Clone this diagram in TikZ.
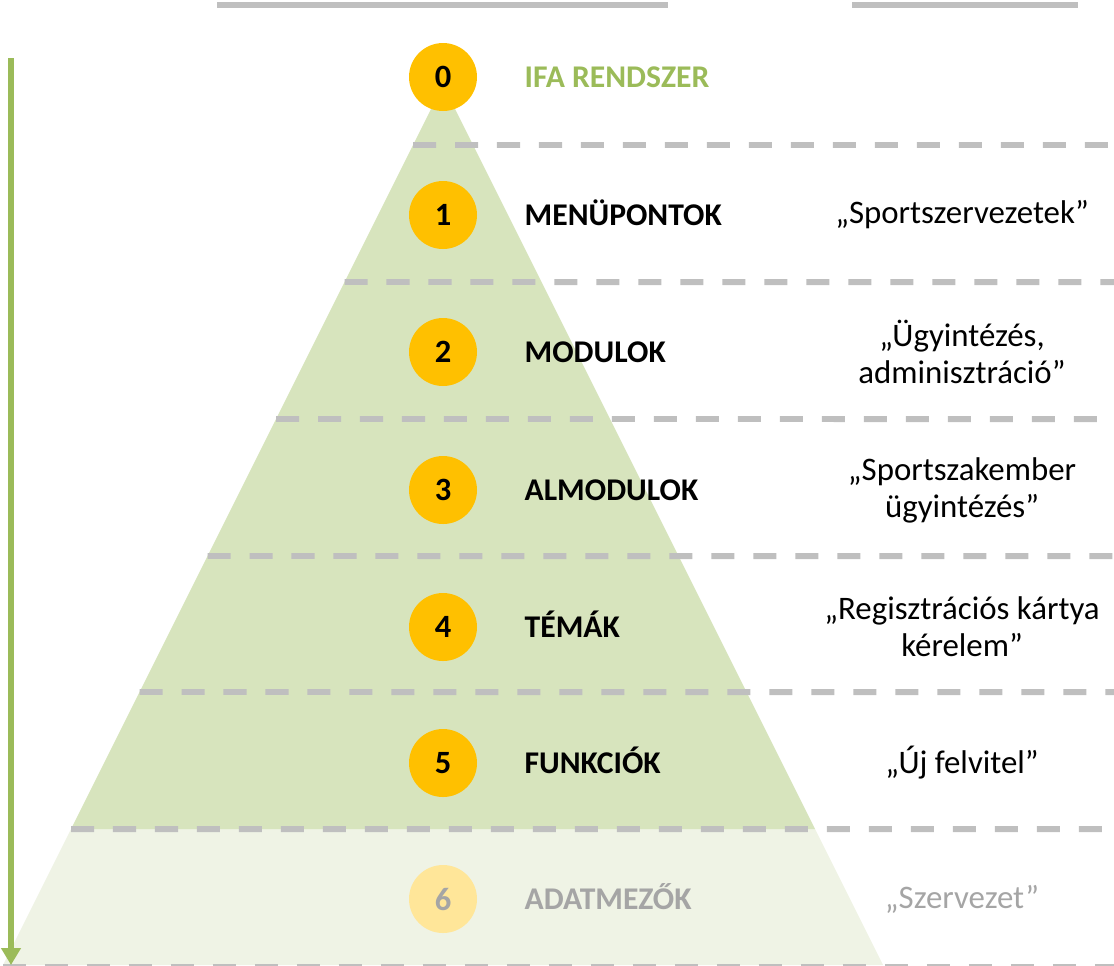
\documentclass[tikz,border=0pt]{standalone}
\usepackage{fontspec}
\setmainfont{Carlito}
\usetikzlibrary{positioning,arrows.meta,calc}
\definecolor{ifagreen}{HTML}{9BBB59}
\definecolor{pyrgreen}{HTML}{D7E4BD}
\definecolor{pyrlight}{HTML}{EFF3E5}
\definecolor{gold}{HTML}{FFC000}
\definecolor{goldlight}{HTML}{FFE699}
\definecolor{sepgray}{HTML}{BFBFBF}
\definecolor{fadegray}{HTML}{A5A5A5}
\tikzset{
  lvl/.style={circle, fill=gold, minimum size=1.36cm, inner sep=0pt,
    font=\fontsize{18.5}{21}\selectfont\bfseries},
  lvlname/.style={inner sep=0pt, text height=11.6pt, text depth=0pt,
    font=\fontsize{18}{21}\selectfont\bfseries},
  lvldesc/.style={inner sep=0pt, align=center, font=\fontsize{18.7}{21}\selectfont},
  sep/.style={sepgray, line width=3.4pt, dash pattern=on 13.1pt off 10.8pt},
  bar/.style={sepgray, line width=3.4pt},
  flow/.style={ifagreen, line width=2.9pt, -{Triangle[length=0.34cm, width=0.38cm]}}
}
\begin{document}
\begin{tikzpicture}[x=0.02cm, y=-0.02cm]
  \useasboundingbox (0,0) rectangle (1114,965);
  \coordinate (apex) at (443,85);
  \coordinate (cut) at (71,829);
  \coordinate (cutr) at (815,829);
  \coordinate (bl) at (3,965);
  \coordinate (br) at (883,965);
  \fill [pyrlight] (cut) -- (cutr) -- (br) -- (bl) -- cycle;
  \fill [pyrgreen] (apex) -- (cutr) -- (cut) -- cycle;
  \draw [bar] (217,5) -- (668,5);
  \draw [bar] (852,5) -- (1078,5);
  \foreach \y in {145,282,419,556,692,829}
    \draw [sep] ($(apex)!{(\y-85)/880}!(bl)$) -- (1114,\y);
  \draw [sep] (3,967) -- (1114,967);
  \coordinate (arrtop) at (11,58);
  \coordinate (arrbot) at (11,965);
  \draw [flow] (arrtop) -- (arrbot);

  \node [lvl] (c0) at (443,77) {0};
  \node [lvlname, text=ifagreen, right=0.94cm of c0] (n0) {IFA RENDSZER};

  \node [lvl] (c1) at (443,215) {1};
  \node [lvlname, right=0.94cm of c1] (n1) {MENÜPONTOK};
  \node [lvldesc] (d1) at (962,215) {„Sportszervezetek”};

  \node [lvl] (c2) at (443,352) {2};
  \node [lvlname, right=0.94cm of c2] (n2) {MODULOK};
  \node [lvldesc] (d2) at (962,352) {„Ügyintézés,\\adminisztráció”};

  \node [lvl] (c3) at (443,490) {3};
  \node [lvlname, right=0.94cm of c3] (n3) {ALMODULOK};
  \node [lvldesc] (d3) at (962,490) {„Sportszakember\\ügyintézés”};

  \node [lvl] (c4) at (443,627) {4};
  \node [lvlname, right=0.94cm of c4] (n4) {TÉMÁK};
  \node [lvldesc] (d4) at (962,627) {„Regisztrációs kártya\\kérelem”};

  \node [lvl] (c5) at (443,763) {5};
  \node [lvlname, right=0.94cm of c5] (n5) {FUNKCIÓK};
  \node [lvldesc] (d5) at (962,763) {„Új felvitel”};

  \node [lvl, fill=goldlight, text=fadegray] (c6) at (443,899) {6};
  \node [lvlname, text=fadegray, right=0.94cm of c6] (n6) {ADATMEZŐK};
  \node [lvldesc, text=fadegray] (d6) at (962,899) {„Szervezet”};
\end{tikzpicture}
\end{document}
